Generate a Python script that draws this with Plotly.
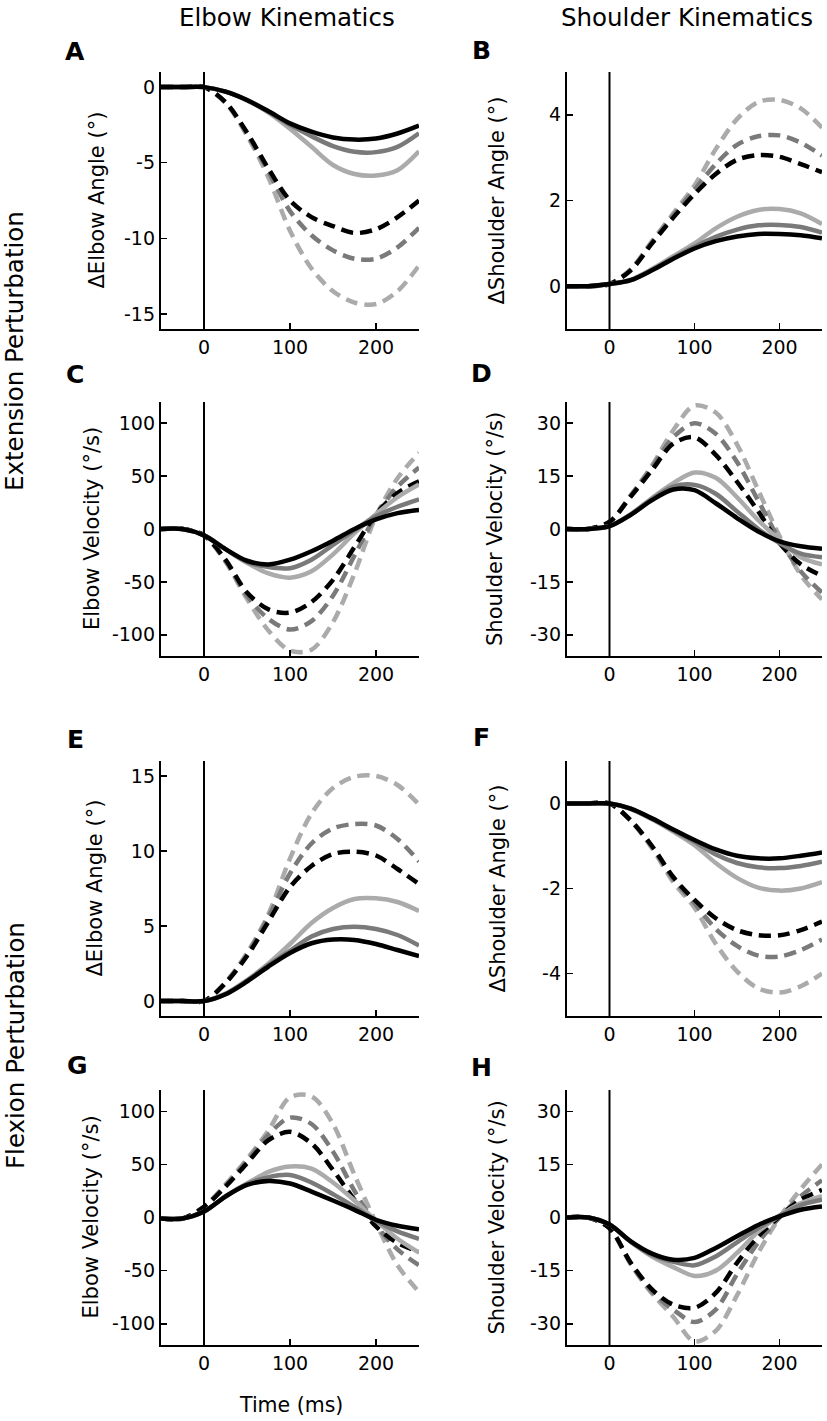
import plotly.graph_objects as go

# ---------------- data ----------------
time_ms = [-50, -25, 0, 25, 50, 75, 100, 125, 150, 175, 200, 225, 250]

# A: elbow angle, extension perturbation (deg)
A_sol_black = [0, 0, 0, -0.3, -0.85, -1.6, -2.4, -2.95, -3.33, -3.47, -3.4, -3.07, -2.55]
A_sol_dark = [0, 0, 0, -0.3, -0.86, -1.63, -2.5, -3.25, -3.9, -4.28, -4.3, -3.95, -3.05]
A_sol_light = [0, 0, 0, -0.3, -0.88, -1.68, -2.75, -3.95, -5.15, -5.75, -5.85, -5.5, -4.25]
A_dash_black = [0, 0, 0, -1.0, -3.0, -5.4, -7.5, -8.6, -9.2, -9.65, -9.4, -8.6, -7.5]
A_dash_dark = [0, 0, 0, -1.0, -3.1, -5.6, -8.2, -9.8, -10.8, -11.35, -11.35, -10.6, -9.3]
A_dash_light = [0, 0, 0, -1.05, -3.2, -6.0, -9.5, -12.0, -13.5, -14.25, -14.35, -13.5, -11.8]

# B: shoulder angle, extension perturbation (deg)
B_sol_black = [0, 0, 0.05, 0.14, 0.37, 0.64, 0.88, 1.05, 1.16, 1.22, 1.22, 1.19, 1.12]
B_sol_dark = [0, 0, 0.05, 0.14, 0.38, 0.66, 0.92, 1.15, 1.32, 1.42, 1.43, 1.38, 1.25]
B_sol_light = [0, 0, 0.05, 0.15, 0.40, 0.70, 1.0, 1.35, 1.62, 1.78, 1.8, 1.7, 1.45]
B_dash_black = [0, 0, 0.05, 0.37, 1.0, 1.6, 2.15, 2.62, 2.95, 3.06, 3.02, 2.85, 2.66]
B_dash_dark = [0, 0, 0.05, 0.38, 1.02, 1.65, 2.25, 2.85, 3.3, 3.5, 3.52, 3.35, 3.05]
B_dash_light = [0, 0, 0.05, 0.40, 1.05, 1.7, 2.35, 3.2, 3.9, 4.3, 4.35, 4.15, 3.7]

# C: elbow velocity, extension perturbation (deg/s)
C_sol_black = [0, 0, -6, -19, -30, -33.5, -29, -21, -11, 0, 9, 15, 18]
C_sol_dark = [0, 0, -6, -19, -31, -36, -37, -29, -15, -1, 12, 21, 28]
C_sol_light = [0, 0, -6, -19, -32, -42, -46, -40, -24, -4, 14, 30, 42]
C_dash_black = [0, 0, -6, -29, -60, -76, -79, -69, -48, -17, 14, 34, 45]
C_dash_dark = [0, 0, -6, -30, -63, -85, -95, -87, -63, -25, 13, 40, 58]
C_dash_light = [0, 0, -6, -31, -66, -96, -115, -114, -88, -42, 12, 48, 72]

# D: shoulder velocity, extension perturbation (deg/s)
D_sol_black = [0, 0, 0.8, 4, 8.2, 11.2, 11, 7.3, 3.1, -0.7, -3.5, -4.9, -5.6]
D_sol_dark = [0, 0, 0.8, 4.1, 8.5, 12, 12.5, 10, 5, 0, -4, -7, -8]
D_sol_light = [0, 0, 0.8, 4.2, 8.8, 13, 16, 14.5, 9, 2.5, -3, -8, -10]
D_dash_black = [0, 0, 2, 9.2, 16.7, 24.2, 26, 21, 13.4, 5, -4, -10, -13.3]
D_dash_dark = [0, 0, 2, 9.4, 17.5, 26, 30, 27, 19, 8, -3, -12, -18]
D_dash_light = [0, 0, 2, 9.6, 18, 28, 35, 33, 24, 11, -2, -13, -20]

# E: elbow angle, flexion perturbation (deg)
E_sol_black = [0, 0, 0, 0.45, 1.3, 2.3, 3.2, 3.85, 4.1, 4.07, 3.8, 3.4, 3.0]
E_sol_dark = [0, 0, 0, 0.45, 1.35, 2.4, 3.35, 4.3, 4.8, 4.95, 4.8, 4.4, 3.7]
E_sol_light = [0, 0, 0, 0.5, 1.4, 2.5, 3.8, 5.2, 6.2, 6.8, 6.85, 6.6, 6.0]
E_dash_black = [0, 0, 0, 1.2, 3.0, 5.3, 7.6, 9.0, 9.8, 9.95, 9.7, 8.8, 7.8]
E_dash_dark = [0, 0, 0, 1.2, 3.1, 5.6, 8.5, 10.5, 11.5, 11.8, 11.7, 10.8, 9.3]
E_dash_light = [0, 0, 0, 1.25, 3.2, 5.8, 9.5, 12.5, 14.2, 14.95, 15.0, 14.4, 13.1]

# F: shoulder angle, flexion perturbation (deg)
F_sol_black = [0, 0, 0, -0.12, -0.35, -0.61, -0.86, -1.08, -1.23, -1.29, -1.29, -1.23, -1.15]
F_sol_dark = [0, 0, 0, -0.12, -0.36, -0.63, -0.9, -1.2, -1.4, -1.5, -1.52, -1.47, -1.37]
F_sol_light = [0, 0, 0, -0.13, -0.37, -0.66, -0.98, -1.4, -1.75, -1.98, -2.05, -2.0, -1.85]
F_dash_black = [0, 0, 0, -0.4, -1.0, -1.73, -2.27, -2.7, -2.98, -3.1, -3.1, -2.98, -2.78]
F_dash_dark = [0, 0, 0, -0.4, -1.02, -1.78, -2.35, -2.95, -3.35, -3.58, -3.6, -3.45, -3.2]
F_dash_light = [0, 0, 0, -0.41, -1.05, -1.85, -2.45, -3.3, -3.95, -4.35, -4.45, -4.3, -4.0]

# G: elbow velocity, flexion perturbation (deg/s)
G_sol_black = [-1, -1, 5.6, 19.7, 30.6, 34.4, 32, 24.4, 16, 7.2, -2.2, -7.8, -11]
G_sol_dark = [-1, -1, 5.6, 19.8, 31.5, 38, 40, 33, 22, 10, -3, -13, -20]
G_sol_light = [-1, -1, 5.6, 20, 32, 43, 48, 46, 33, 16, -3, -20, -33]
G_dash_black = [-1, -1, 10, 29, 51, 72.8, 80.6, 69.7, 44.7, 16.6, -8.4, -24, -32]
G_dash_dark = [-1, -1, 10, 30, 53, 78, 94, 88, 62, 25, -7, -30, -45]
G_dash_light = [-1, -1, 10, 31, 55, 82, 113, 114, 88, 40, -5, -45, -70]

# H: shoulder velocity, flexion perturbation (deg/s)
H_sol_black = [0, 0, -2, -6.75, -10.2, -11.9, -11.4, -8.6, -5.3, -2.1, 0.3, 2.2, 3.1]
H_sol_dark = [0, 0, -2, -6.8, -10.6, -12.5, -13.5, -11, -7, -3, 0.5, 3.5, 5]
H_sol_light = [0, 0, -2, -6.9, -11, -14, -16.5, -15, -10, -4, 0.5, 4, 6]
H_dash_black = [0, 0, -3, -12.8, -20.3, -24.6, -25.5, -21.3, -12.8, -5.3, 0.3, 5, 7.8]
H_dash_dark = [0, 0, -3, -13, -21, -26, -29.5, -26, -16, -7, 0, 6, 10.5]
H_dash_light = [0, 0, -3, -13.2, -21.5, -28, -35, -32, -22, -10, 0, 8, 15]

x_tickvals = [0, 100, 200]
x_ticktext = ["0", "100", "200"]

elbow_angle_ext_ticks = [-15, -10, -5, 0]
shoulder_angle_ext_ticks = [0, 2, 4]
elbow_vel_ticks = [-100, -50, 0, 50, 100]
shoulder_vel_ticks = [-30, -15, 0, 15, 30]
elbow_angle_flex_ticks = [0, 5, 10, 15]
shoulder_angle_flex_ticks = [-4, -2, 0]

column_titles = ["Elbow Kinematics", "Shoulder Kinematics"]
row_titles = ["Extension Perturbation", "Flexion Perturbation"]
panel_letters = ["A", "B", "C", "D", "E", "F", "G", "H"]
y_titles = ["\u0394Elbow Angle (\u00b0)", "\u0394Shoulder Angle (\u00b0)",
            "Elbow Velocity (\u00b0/s)", "Shoulder Velocity (\u00b0/s)",
            "\u0394Elbow Angle (\u00b0)", "\u0394Shoulder Angle (\u00b0)",
            "Elbow Velocity (\u00b0/s)", "Shoulder Velocity (\u00b0/s)"]
x_title = "Time (ms)"

# ---------------- layout geometry (pixels) ----------------
W, H = 827, 1421
FONT = "DejaVu Sans"
col_px = [(161, 419), (567, 822)]
row_px = [(72, 329), (402, 656), (761, 1016), (1090, 1345)]
y_ranges = [(-16, 1), (-1, 5), (-120, 120), (-36, 36), (-1, 16), (-5, 1), (-120, 120), (-36, 36)]
y_ticks = [elbow_angle_ext_ticks, shoulder_angle_ext_ticks, elbow_vel_ticks, shoulder_vel_ticks,
           elbow_angle_flex_ticks, shoulder_angle_flex_ticks, elbow_vel_ticks, shoulder_vel_ticks]

panel_series = [
    (A_sol_black, A_sol_dark, A_sol_light, A_dash_black, A_dash_dark, A_dash_light),
    (B_sol_black, B_sol_dark, B_sol_light, B_dash_black, B_dash_dark, B_dash_light),
    (C_sol_black, C_sol_dark, C_sol_light, C_dash_black, C_dash_dark, C_dash_light),
    (D_sol_black, D_sol_dark, D_sol_light, D_dash_black, D_dash_dark, D_dash_light),
    (E_sol_black, E_sol_dark, E_sol_light, E_dash_black, E_dash_dark, E_dash_light),
    (F_sol_black, F_sol_dark, F_sol_light, F_dash_black, F_dash_dark, F_dash_light),
    (G_sol_black, G_sol_dark, G_sol_light, G_dash_black, G_dash_dark, G_dash_light),
    (H_sol_black, H_sol_dark, H_sol_light, H_dash_black, H_dash_dark, H_dash_light),
]

BLACK, DARK, LIGHT = "#000000", "#7a7a7a", "#ababab"
DASH = "12px,7px"
LW = 4.5


def px_x(p):
    return p / W


def px_y(p):
    return 1 - p / H


fig = go.Figure()
layout = dict(
    width=W, height=H, margin=dict(l=0, r=0, t=0, b=0),
    paper_bgcolor="white", plot_bgcolor="white", showlegend=False,
    font=dict(family=FONT, color="black"),
)
shapes = []
annotations = []

letter_pos = [(75, 52), (482, 50), (75, 375), (481, 373), (75, 739), (481, 738), (77, 1065), (481, 1067)]
ytitle_x = [97, 497, 92, 495, 94, 497, 90, 496]

for i in range(8):
    k = i + 1
    r, c = divmod(i, 2)
    xn = "x" if k == 1 else f"x{k}"
    yn = "y" if k == 1 else f"y{k}"
    xa = "xaxis" if k == 1 else f"xaxis{k}"
    ya = "yaxis" if k == 1 else f"yaxis{k}"
    x0, x1 = col_px[c]
    y0, y1 = row_px[r]
    layout[xa] = dict(
        domain=[px_x(x0), px_x(x1)], anchor=yn, range=[-50, 250],
        tickmode="array", tickvals=x_tickvals, ticktext=x_ticktext,
        ticks="inside", ticklen=6, tickwidth=1.5, tickcolor="black",
        showline=True, linewidth=2.2, linecolor="black", mirror=False,
        showgrid=False, zeroline=False, tickfont=dict(family=FONT, size=19, color="black"),
        fixedrange=True,
    )
    yt = y_ticks[i]
    layout[ya] = dict(
        domain=[px_y(y1), px_y(y0)], anchor=xn, range=list(y_ranges[i]),
        tickmode="array", tickvals=yt, ticktext=[str(v) for v in yt],
        ticks="inside", ticklen=6, tickwidth=1.5, tickcolor="black",
        showline=True, linewidth=2.2, linecolor="black", mirror=False,
        showgrid=False, zeroline=False, tickfont=dict(family=FONT, size=19, color="black"),
        fixedrange=True,
    )
    sb, sd, sl, db, dd, dl = panel_series[i]
    for ys, col, dash in [(dl, LIGHT, DASH), (dd, DARK, DASH), (db, BLACK, DASH),
                          (sl, LIGHT, "solid"), (sd, DARK, "solid"), (sb, BLACK, "solid")]:
        fig.add_trace(go.Scatter(
            x=time_ms, y=ys, mode="lines", xaxis=xn, yaxis=yn,
            line=dict(color=col, width=LW, dash=dash, shape="spline", smoothing=0.9),
            hoverinfo="skip",
        ))
    shapes.append(dict(type="line", xref=xn, yref=f"{yn} domain", x0=0, x1=0, y0=0, y1=1,
                       line=dict(color="black", width=2)))
    lx, ly = letter_pos[i]
    annotations.append(dict(text=f"<b>{panel_letters[i]}</b>", x=px_x(lx), y=px_y(ly),
                            xref="paper", yref="paper", xanchor="center", yanchor="middle",
                            showarrow=False, font=dict(family=FONT, size=25, color="black")))
    annotations.append(dict(text=y_titles[i], x=px_x(ytitle_x[i]), y=px_y((y0 + y1) / 2),
                            xref="paper", yref="paper", xanchor="center", yanchor="middle",
                            textangle=-90, showarrow=False,
                            font=dict(family=FONT, size=21, color="black")))

# column titles
for txt, cx in zip(column_titles, [287, 687]):
    annotations.append(dict(text=txt, x=px_x(cx), y=px_y(17), xref="paper", yref="paper",
                            xanchor="center", yanchor="middle", showarrow=False,
                            font=dict(family=FONT, size=24.5, color="black")))
# row titles
for txt, cy in zip(row_titles, [351, 1046]):
    annotations.append(dict(text=txt, x=px_x(15), y=px_y(cy), xref="paper", yref="paper",
                            xanchor="center", yanchor="middle", textangle=-90, showarrow=False,
                            font=dict(family=FONT, size=24.5, color="black")))
# x title
annotations.append(dict(text=x_title, x=px_x(291), y=px_y(1405), xref="paper", yref="paper",
                        xanchor="center", yanchor="middle", showarrow=False,
                        font=dict(family=FONT, size=20.5, color="black")))

layout["shapes"] = shapes
layout["annotations"] = annotations
fig.update_layout(**layout)
fig.write_html(
    "out.html",
    config={"displayModeBar": False, "staticPlot": True},
    post_script="document.body.style.margin='0';document.body.style.overflow='hidden';",
)
